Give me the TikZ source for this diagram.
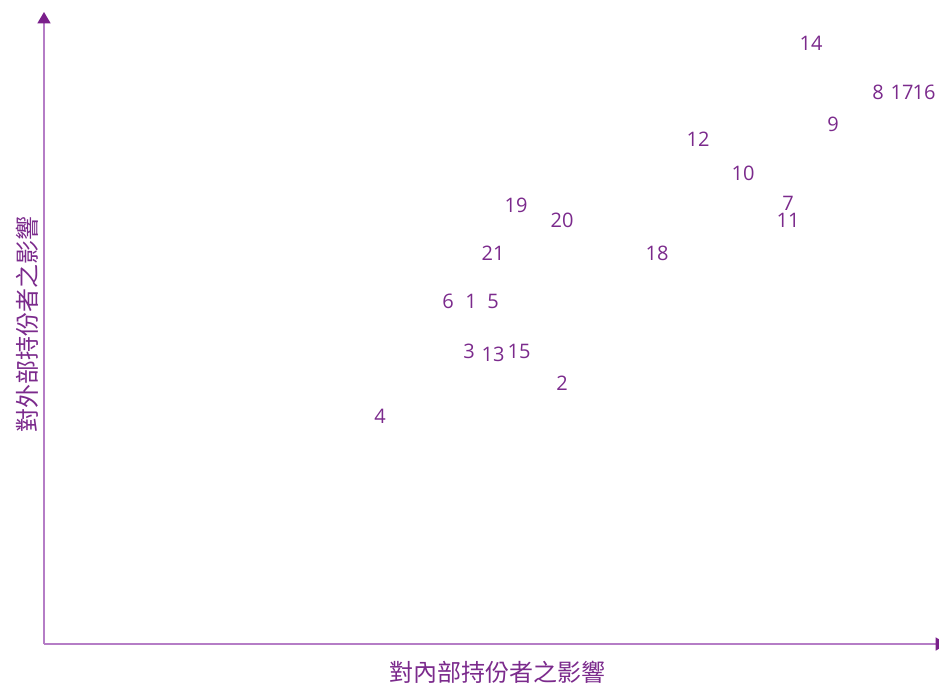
\documentclass[tikz,border=0pt]{standalone}
\usepackage{fontspec}
\setmainfont{Open Sans}
\newfontfamily\cjk{Noto Sans CJK TC}
\usetikzlibrary{arrows.meta}
\definecolor{axisc}{HTML}{B57DC6}
\definecolor{tipc}{HTML}{7A1F8B}
\definecolor{txtc}{HTML}{7B2A8C}
\begin{document}
\begin{tikzpicture}[x=0.75pt,y=-0.75pt,
  axisline/.style={draw=axisc,line width=1.1pt,-{Triangle[width=9.75pt,length=8.5pt,color=tipc]}},
  pt/.style={text=txtc,font=\fontsize{15}{17}\selectfont,inner sep=0pt},
  axlabel/.style={text=txtc,font=\cjk\fontsize{18}{20}\selectfont,inner sep=0pt}]
\useasboundingbox (0,0) rectangle (939,683);
\coordinate (o) at (44,644);
\coordinate (ytop) at (44,12);
\coordinate (xend) at (947,644);
\draw[axisline] (o) -- (ytop);
\draw[axisline] (o) -- (xend);
\node[axlabel] (xl) at (497,672) {對內部持份者之影響};
\node[axlabel,rotate=90] (yl) at (27,324) {對外部持份者之影響};
\node[pt] (p14) at (811,43) {14};
\node[pt] (p8) at (878,92) {8};
\node[pt] (p17) at (902,92) {17};
\node[pt] (p16) at (924,92) {16};
\node[pt] (p9) at (833,124) {9};
\node[pt] (p12) at (698,139) {12};
\node[pt] (p10) at (743,173) {10};
\node[pt] (p7) at (788,203) {7};
\node[pt] (p11) at (788,220) {11};
\node[pt] (p19) at (516,205) {19};
\node[pt] (p20) at (562,220) {20};
\node[pt] (p21) at (493,253) {21};
\node[pt] (p18) at (657,253) {18};
\node[pt] (p6) at (448,301) {6};
\node[pt] (p1) at (471,301) {1};
\node[pt] (p5) at (493,301) {5};
\node[pt] (p3) at (469,351) {3};
\node[pt] (p13) at (493,354) {13};
\node[pt] (p15) at (519,351) {15};
\node[pt] (p2) at (562,383) {2};
\node[pt] (p4) at (380,416) {4};
\end{tikzpicture}
\end{document}
